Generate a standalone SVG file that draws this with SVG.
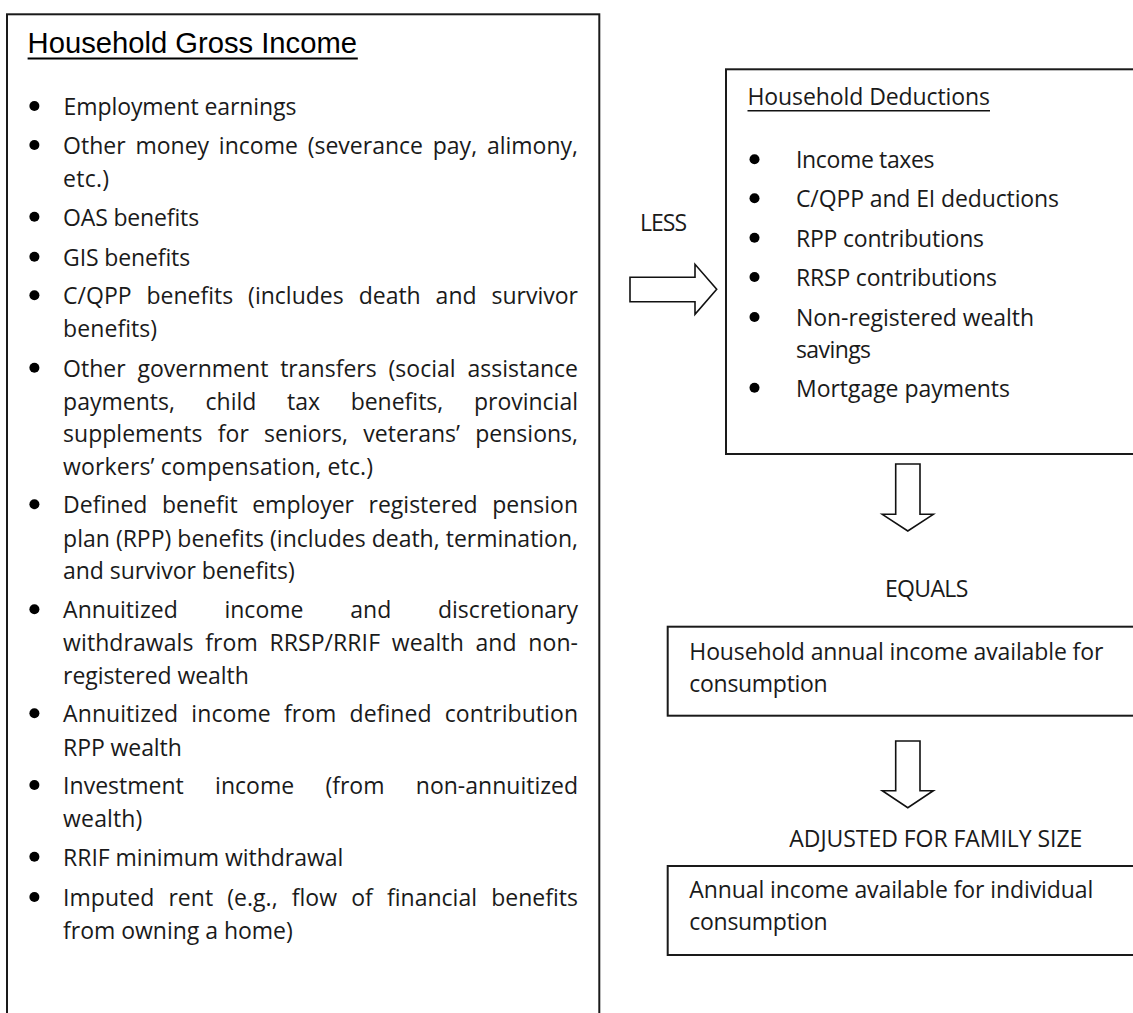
<svg xmlns="http://www.w3.org/2000/svg" width="1133" height="1013" viewBox="0 0 1133 1013">
<style>
.box{fill:#fff;stroke:#1a1a1a;stroke-width:2}
.arr{fill:#fff;stroke:#111;stroke-width:1.6;stroke-linejoin:miter}
.b{font-family:"Open Sans","Liberation Sans",sans-serif;font-size:23px;font-weight:400;fill:#1a1a1a}
.t{font-family:"Liberation Sans",Arial,sans-serif;font-size:29.2px;fill:#000}
.ul{stroke:#000;stroke-width:2}
.ul2{stroke:#111;stroke-width:1.5}
.dot{fill:#000}
</style>
<rect width="1133" height="1013" fill="#fff"/>

<g id="gross-income">
<rect class="box" x="7" y="14.3" width="592.3" height="1020"/>
<text class="t" x="27.6" y="53.3">Household Gross Income</text>
<line class="ul" x1="27.6" y1="58.4" x2="357.8" y2="58.4"/>
<g class="dots">
<circle class="dot" cx="34.4" cy="106" r="5"/>
<circle class="dot" cx="34.4" cy="145" r="5"/>
<circle class="dot" cx="34.4" cy="216.7" r="5"/>
<circle class="dot" cx="34.4" cy="256.7" r="5"/>
<circle class="dot" cx="34.4" cy="295.3" r="5"/>
<circle class="dot" cx="34.4" cy="367.7" r="5"/>
<circle class="dot" cx="34.4" cy="504.3" r="5"/>
<circle class="dot" cx="34.4" cy="609.3" r="5"/>
<circle class="dot" cx="34.4" cy="713.3" r="5"/>
<circle class="dot" cx="34.4" cy="785" r="5"/>
<circle class="dot" cx="34.4" cy="856.7" r="5"/>
<circle class="dot" cx="34.4" cy="897" r="5"/>
</g>
<text class="b" x="63.5" y="115" textLength="233">Employment earnings</text>
<text class="b" x="63.1" y="154" word-spacing="3.8" textLength="514.9">Other money income (severance pay, alimony,</text>
<text class="b" x="63.1" y="187" textLength="46">etc.)</text>
<text class="b" x="63.1" y="225.7" textLength="136">OAS benefits</text>
<text class="b" x="63.1" y="265.7" textLength="127">GIS benefits</text>
<text class="b" x="63.1" y="304.3" word-spacing="8.9" textLength="514.9">C/QPP benefits (includes death and survivor</text>
<text class="b" x="63.1" y="337" textLength="94">benefits)</text>
<text class="b" x="63.1" y="376.7" word-spacing="5.8" textLength="514.9">Other government transfers (social assistance</text>
<text class="b" x="63.1" y="410" word-spacing="24.7" textLength="514.9">payments, child tax benefits, provincial</text>
<text class="b" x="63.1" y="442" word-spacing="9.3" textLength="514.9">supplements for seniors, veterans’ pensions,</text>
<text class="b" x="63.1" y="475" textLength="310">workers’ compensation, etc.)</text>
<text class="b" x="63.1" y="513.3" word-spacing="8.5" textLength="514.9">Defined benefit employer registered pension</text>
<text class="b" x="63.1" y="546.5" word-spacing="0.1" textLength="514.9">plan (RPP) benefits (includes death, termination,</text>
<text class="b" x="63.1" y="579" textLength="231.6">and survivor benefits)</text>
<text class="b" x="63.1" y="618.3" word-spacing="40.7" textLength="514.9">Annuitized income and discretionary</text>
<text class="b" x="63.1" y="651" word-spacing="5.6" textLength="514.9">withdrawals from RRSP/RRIF wealth and non-</text>
<text class="b" x="63.1" y="683.5" textLength="185.7">registered wealth</text>
<text class="b" x="63.1" y="722.3" word-spacing="7.1" textLength="514.9">Annuitized income from defined contribution</text>
<text class="b" x="63.1" y="755.7" textLength="118.7">RPP wealth</text>
<text class="b" x="63.1" y="794" word-spacing="25.3" textLength="514.9">Investment income (from non-annuitized</text>
<text class="b" x="63.1" y="826.5" textLength="79.3">wealth)</text>
<text class="b" x="63.1" y="865.7" textLength="280.2">RRIF minimum withdrawal</text>
<text class="b" x="63.1" y="906" word-spacing="8.2" textLength="514.9">Imputed rent (e.g., flow of financial benefits</text>
<text class="b" x="63.1" y="938.5" textLength="229.7">from owning a home)</text>
</g>

<g id="deductions">
<rect class="box" x="726" y="69.3" width="420" height="384.7"/>
<text class="b" x="747.5" y="105" textLength="242.5">Household Deductions</text>
<line class="ul2" x1="747.5" y1="110.8" x2="990" y2="110.8"/>
<circle class="dot" cx="754.5" cy="159.3" r="5"/>
<circle class="dot" cx="754.5" cy="198.3" r="5"/>
<circle class="dot" cx="754.5" cy="237.7" r="5"/>
<circle class="dot" cx="754.5" cy="277" r="5"/>
<circle class="dot" cx="754.5" cy="317" r="5"/>
<circle class="dot" cx="754.5" cy="387.7" r="5"/>
<text class="b" x="796" y="168.3" textLength="138.5">Income taxes</text>
<text class="b" x="796" y="207.3" textLength="263">C/QPP and EI deductions</text>
<text class="b" x="796" y="246.7" textLength="188">RPP contributions</text>
<text class="b" x="796" y="286" textLength="201">RRSP contributions</text>
<text class="b" x="796" y="326" textLength="238">Non-registered wealth</text>
<text class="b" x="796" y="358.3" textLength="75">savings</text>
<text class="b" x="796" y="396.7" textLength="214">Mortgage payments</text>
</g>

<g id="household-available">
<rect class="box" x="667.7" y="626.7" width="480" height="89"/>
<text class="b" x="689.3" y="660" textLength="414">Household annual income available for</text>
<text class="b" x="689.3" y="691.7" textLength="138.4">consumption</text>
</g>

<g id="individual-available">
<rect class="box" x="667.7" y="866" width="480" height="89"/>
<text class="b" x="689.3" y="898.3" textLength="404">Annual income available for individual</text>
<text class="b" x="689.3" y="930" textLength="138.4">consumption</text>
</g>

<g id="connectors">
<polygon class="arr" points="630,277.3 695,277.3 695,264.3 716.7,289.3 695,314.3 695,301.7 630,301.7"/>
<text class="b" x="640" y="230.7" textLength="47">LESS</text>
<polygon class="arr" points="895.7,464 920,464 920,514.3 933.3,514.3 907.8,531 882.3,514.3 895.7,514.3"/>
<text class="b" x="885" y="596.7" textLength="83.3">EQUALS</text>
<polygon class="arr" points="895.7,741 920,741 920,790.7 933.3,790.7 907.8,807.7 882.3,790.7 895.7,790.7"/>
<text class="b" x="789.3" y="847.3" textLength="293">ADJUSTED FOR FAMILY SIZE</text>
</g>
</svg>
